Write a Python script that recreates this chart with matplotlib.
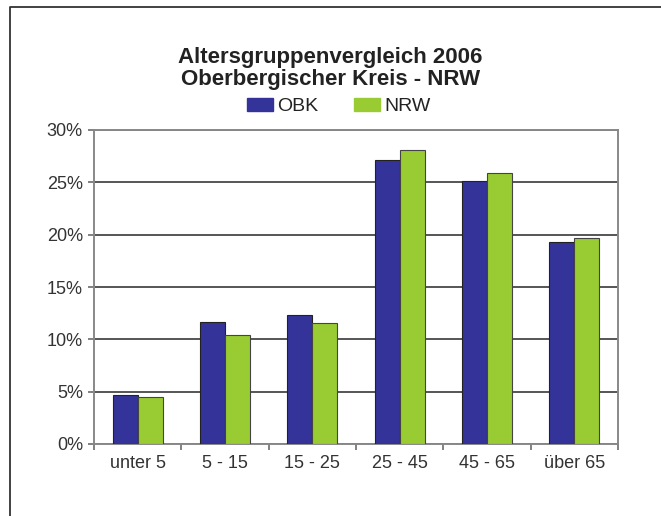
"""Altersgruppenvergleich 2006 - Oberbergischer Kreis vs. NRW."""

import matplotlib
matplotlib.use("Agg")
import matplotlib.pyplot as plt
import numpy as np
from matplotlib.lines import Line2D
from matplotlib.patches import Rectangle
from matplotlib.ticker import FuncFormatter, FixedLocator

plt.rcParams["font.family"] = ["Liberation Sans", "DejaVu Sans"]

categories = ["unter 5", "5 - 15", "15 - 25", "25 - 45", "45 - 65", "über 65"]
obk = [4.7, 11.7, 12.3, 27.1, 25.1, 19.3]
nrw = [4.5, 10.4, 11.6, 28.1, 25.9, 19.7]

BLUE = "#333399"
GREEN = "#99cc33"
GRID = "#555555"
TXT = "#333333"

fig = plt.figure(figsize=(6.61, 5.16), dpi=100)
fig.patch.set_facecolor("white")
ax = fig.add_axes([94 / 661, 72 / 516, 524 / 661, 314 / 516])

x = np.arange(len(categories))
w = 0.286
ax.bar(x - w / 2, obk, w, color=BLUE, edgecolor="#222222", lw=0.8, zorder=3)
ax.bar(x + w / 2, nrw, w, color=GREEN, edgecolor="#444444", lw=0.8, zorder=3)

ax.set_xlim(-0.5, len(categories) - 0.5)
ax.set_ylim(0, 30)
ax.yaxis.set_major_locator(FixedLocator(np.arange(0, 31, 5)))
ax.yaxis.set_major_formatter(FuncFormatter(lambda v, p: f"{v:.0f}%"))
ax.grid(axis="y", color=GRID, lw=1.4, zorder=1)

ax.set_xticks(x)
ax.set_xticklabels(categories)
ax.xaxis.set_minor_locator(FixedLocator(np.arange(-0.5, len(categories), 1)))
ax.tick_params(axis="x", which="major", length=0, pad=8, labelsize=13, labelcolor=TXT)
ax.tick_params(axis="x", which="minor", length=4, width=1.3, color="#777777")
ax.tick_params(axis="y", length=4, width=1.3, color="#777777", labelsize=13,
               labelcolor=TXT, pad=4)
for s in ax.spines.values():
    s.set_color("#888888")
    s.set_linewidth(1.4)

fig.text(0.5, 1 - 63 / 516, "Altersgruppenvergleich 2006", ha="center", va="baseline",
         fontsize=16, fontweight="bold", color="#222222")
fig.text(0.5, 1 - 85 / 516, "Oberbergischer Kreis - NRW", ha="center", va="baseline",
         fontsize=16, fontweight="bold", color="#222222")

# legend drawn as figure artists to match the single-row layout
lb = 1 - 111 / 516
for x0, col, lab in [(247, BLUE, "OBK"), (354, GREEN, "NRW")]:
    fig.add_artist(Rectangle((x0 / 661, lb), 26 / 661, 13 / 516,
                             transform=fig.transFigure, color=col))
    fig.text((x0 + 30) / 661, lb, lab, ha="left", va="baseline", fontsize=14,
             color="#222222")

# outer frame (cut off on the right and bottom)
fig.add_artist(Line2D([10 / 661, 10 / 661, 1], [0, 1 - 7 / 516, 1 - 7 / 516],
                      transform=fig.transFigure, color="#333333", lw=1.3))

fig.savefig("out.png", dpi=100)
